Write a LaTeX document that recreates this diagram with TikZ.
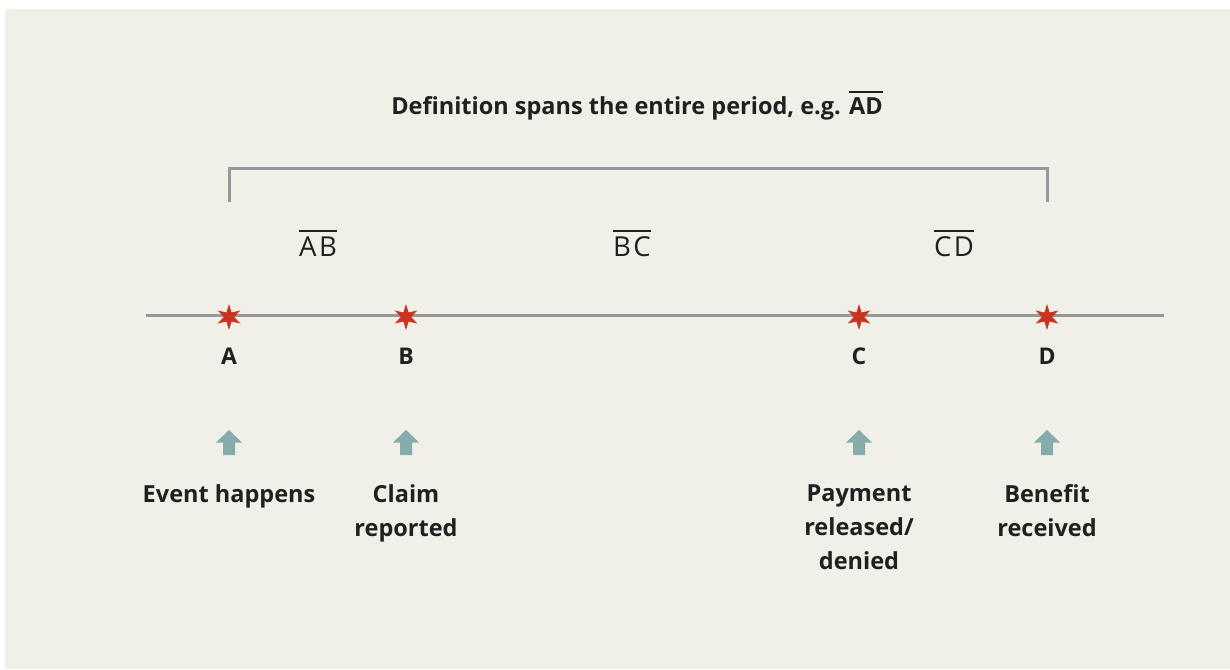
\documentclass[tikz,border=0pt]{standalone}
\usepackage{fontspec}
\setmainfont{Open Sans}
\usetikzlibrary{shapes.geometric}
\definecolor{bg}{HTML}{F0EFE8}
\definecolor{ink}{HTML}{231F20}
\definecolor{starred}{HTML}{C9331F}
\definecolor{teal}{HTML}{86ABAB}
\definecolor{linegray}{HTML}{98989C}
\newcommand\ovl[1]{\leavevmode\vbox{\hrule height 2pt\kern 4pt\hbox{#1}}}
\tikzset{
  x=1pt, y=-1pt,
  evstar/.style={star, star points=6, star point ratio=2.5, minimum size=26pt, inner sep=0pt, fill=starred, draw=none},
  letter/.style={font=\fontsize{23}{27}\selectfont\bfseries, text=ink, inner sep=0pt, anchor=base},
  seg/.style={font=\fontsize{27.5}{32}\selectfont, text=ink, inner sep=0pt, anchor=base},
  caption/.style={font=\fontsize{23.5}{34}\selectfont\bfseries, text=ink, inner sep=0pt, anchor=north, align=center},
  title/.style={font=\fontsize{23.5}{28}\selectfont\bfseries, text=ink, inner sep=0pt, anchor=base},
  gline/.style={draw=linegray, line width=3pt},
  uparrow/.pic={\fill[teal] (-13,12.5) -- (0,0) -- (13,12.5) -- (6,12.5) -- (6,25) -- (-6,25) -- (-6,12.5) -- cycle;}
}
\begin{document}
\begin{tikzpicture}
\useasboundingbox (0,0) rectangle (1230,669);
\fill[bg] (5,9) rectangle (1230,669);
% title
\node[title] (title) at (637,114) {Definition spans the entire period, e.g. \ovl{AD}};
% bracket
\coordinate (bl) at (229,202);
\coordinate (br) at (1047,202);
\draw[gline, line width=3pt] (bl) -- (229,168.5) -- (1047,168.5) -- (br);
% segment labels
\node[seg] (ab) at (318,256) {\ovl{A\kern2.5pt B}};
\node[seg] (bc) at (632,256) {\ovl{B\kern2.5pt C}};
\node[seg] (cd) at (954,256) {\ovl{C\kern2.5pt D}};
% timeline
\coordinate (tl) at (146,315.5);
\coordinate (tr) at (1164,315.5);
\draw[gline] (tl) -- (tr);
% stars
\node[evstar] (sa) at (229,317) {};
\node[evstar] (sb) at (406,317) {};
\node[evstar] (sc) at (859,317) {};
\node[evstar] (sd) at (1047,317) {};
% letters
\node[letter] (la) at (229,364) {A};
\node[letter] (lb) at (406,364) {B};
\node[letter] (lc) at (859,364) {C};
\node[letter] (ld) at (1047,364) {D};
% arrows
\pic (aa) at (229,430) {uparrow};
\pic (ab2) at (406,430) {uparrow};
\pic (ac) at (859,430) {uparrow};
\pic (ad) at (1047,430) {uparrow};
% captions
\node[caption] (ca) at (229,484) {Event happens};
\node[caption] (cb) at (406,484) {Claim\\reported};
\node[caption] (cc) at (859,485) {Payment\\released/\\denied};
\node[caption] (cd2) at (1047,484) {Benefit\\received};
\end{tikzpicture}
\end{document}
